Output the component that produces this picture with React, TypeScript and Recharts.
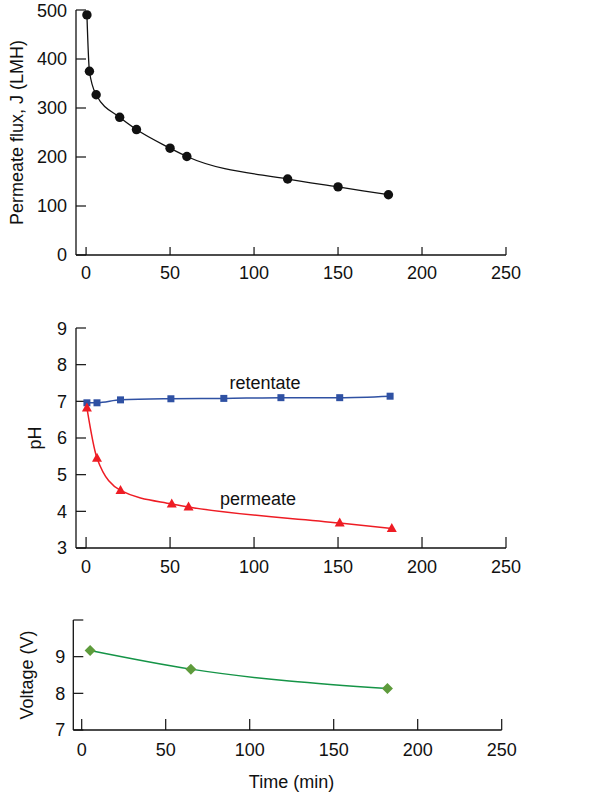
import React from "react";
import { LineChart, Line, XAxis, YAxis, ReferenceDot } from "recharts";

const fluxTime = [0.5, 2, 6, 20, 30, 50, 60, 120, 150, 180];
const fluxValues = [490, 375, 327, 281, 256, 218, 201, 155, 139, 123];

const retentateTime = [0.5, 6.5, 20.5, 50.5, 82, 116, 151, 181];
const retentatePH = [6.96, 6.96, 7.04, 7.07, 7.08, 7.1, 7.1, 7.14];

const permeateTime = [0.5, 6.5, 20.5, 51, 61, 151, 182];
const permeatePH = [6.82, 5.45, 4.57, 4.2, 4.12, 3.68, 3.53];

const voltageTime = [5, 65, 182];
const voltageValues = [9.17, 8.66, 8.13];

const timeTicks = [0, 50, 100, 150, 200, 250];
const fluxTicks = [0, 100, 200, 300, 400, 500];
const phTicks = [3, 4, 5, 6, 7, 8, 9];
const voltTicks = [7, 8, 9, 10];

const fluxData = fluxTime.map((t, i) => ({ t, v: fluxValues[i] }));
const retData = retentateTime.map((t, i) => ({ t, v: retentatePH[i] }));
const permData = permeateTime.map((t, i) => ({ t, v: permeatePH[i] }));
const voltData = voltageTime.map((t, i) => ({ t, v: voltageValues[i] }));

const FONT = "'Liberation Sans', Arial, Helvetica, sans-serif";
const tickStyle = { fontSize: 18, fill: "#111", fontFamily: FONT };
const axisLine = { stroke: "#111", strokeWidth: 1.3 };

const BLUE = "#2f51a3";
const RED = "#ee1c24";
const GREEN_LINE = "#159447";
const GREEN_PT = "#5e9b3c";

const Square = (props: any) => {
  const { cx, cy, index } = props;
  if (cx == null || cy == null) return <g key={"s" + index} />;
  return <rect key={"s" + index} x={cx - 3.5} y={cy - 3.5} width={7} height={7} fill={BLUE} />;
};
const Triangle = (props: any) => {
  const { cx, cy, index } = props;
  if (cx == null || cy == null) return <g key={"t" + index} />;
  return (
    <path
      key={"t" + index}
      d={`M${cx},${cy - 5.5} L${cx + 5},${cy + 3.5} L${cx - 5},${cy + 3.5} Z`}
      fill={RED}
    />
  );
};
const Diamond = (props: any) => {
  const { cx, cy, index } = props;
  if (cx == null || cy == null) return <g key={"d" + index} />;
  return (
    <path
      key={"d" + index}
      d={`M${cx},${cy - 5.5} L${cx + 5.5},${cy} L${cx},${cy + 5.5} L${cx - 5.5},${cy} Z`}
      fill={GREEN_PT}
    />
  );
};

const yTitle = (text: string, dxFromLeft: number) => (props: any) => {
  const vb = props.viewBox || {};
  const x = (vb.x || 0) + dxFromLeft;
  const y = (vb.y || 0) + (vb.height || 0) / 2;
  return (
    <text
      x={x}
      y={y}
      transform={`rotate(-90, ${x}, ${y})`}
      textAnchor="middle"
      dominantBaseline="central"
      fontSize={18}
      fontFamily={FONT}
      fill="#111"
    >
      {text}
    </text>
  );
};

const timeTitle = (props: any) => {
  const vb = props.viewBox || {};
  const x = (vb.x || 0) + (vb.width || 0) / 2 + 4;
  const y = (vb.y || 0) + 52;
  return (
    <text x={x} y={y} textAnchor="middle" dominantBaseline="central" fontSize={18} fontFamily={FONT} fill="#111">
      Time (min)
    </text>
  );
};

export default function App() {
  return (
    <div style={{ position: "absolute", left: 0, top: 0, width: 600, height: 796, background: "#fff" }}>
      <div style={{ position: "absolute", left: 0, top: 0 }}>
        <LineChart width={600} height={290} data={fluxData} margin={{ top: 10, right: 94, bottom: 0, left: 0 }}>
          <XAxis
            dataKey="t"
            type="number"
            domain={[-6, 250]}
            ticks={timeTicks}
            tickSize={-8}
            tickMargin={19}
            tick={tickStyle}
            axisLine={axisLine}
            tickLine={{ stroke: "#111", strokeWidth: 1.2 }}
            height={35}
            allowDataOverflow
          />
          <YAxis
            type="number"
            domain={[0, 500]}
            ticks={fluxTicks}
            tickSize={-10}
            tickMargin={19}
            tick={tickStyle}
            axisLine={axisLine}
            tickLine={{ stroke: "#111", strokeWidth: 1.2 }}
            width={76}
            label={{ content: yTitle("Permeate flux, J (LMH)", 17) }}
          />
          <Line
            dataKey="v"
            type="monotone"
            stroke="#111"
            strokeWidth={1.3}
            dot={{ r: 4.7, fill: "#111", stroke: "#111", strokeWidth: 0 }}
            isAnimationActive={false}
          />
        </LineChart>
      </div>

      <div style={{ position: "absolute", left: 0, top: 318.3 }}>
        <LineChart width={600} height={265} margin={{ top: 10, right: 94, bottom: 0, left: 0 }}>
          <XAxis
            dataKey="t"
            type="number"
            domain={[-6, 250]}
            ticks={timeTicks}
            tickSize={-11}
            tickMargin={23}
            tick={tickStyle}
            axisLine={axisLine}
            tickLine={{ stroke: "#111", strokeWidth: 1.2 }}
            height={35}
            allowDataOverflow
          />
          <YAxis
            type="number"
            domain={[3, 9]}
            ticks={phTicks}
            tickSize={-10}
            tickMargin={19}
            tick={tickStyle}
            axisLine={axisLine}
            tickLine={{ stroke: "#111", strokeWidth: 1.2 }}
            width={76}
            label={{ content: yTitle("pH", 35) }}
          />
          <Line
            data={retData}
            dataKey="v"
            type="monotone"
            stroke={BLUE}
            strokeWidth={1.5}
            dot={Square}
            isAnimationActive={false}
          />
          <Line
            data={permData}
            dataKey="v"
            type="monotone"
            stroke={RED}
            strokeWidth={1.5}
            dot={Triangle}
            isAnimationActive={false}
          />
          <ReferenceDot
            x={106.5}
            y={7.51}
            r={0}
            fill="none"
            stroke="none"
            label={{ value: "retentate", position: "center", fontSize: 18, fill: "#111", fontFamily: FONT }}
          />
          <ReferenceDot
            x={102.4}
            y={4.34}
            r={0}
            fill="none"
            stroke="none"
            label={{ value: "permeate", position: "center", fontSize: 18, fill: "#111", fontFamily: FONT }}
          />
        </LineChart>
      </div>

      <div style={{ position: "absolute", left: 0, top: 610 }}>
        <LineChart width={600} height={186} data={voltData} margin={{ top: 10, right: 98.3, bottom: 0, left: 0 }}>
          <XAxis
            dataKey="t"
            type="number"
            domain={[-5, 250]}
            ticks={timeTicks}
            tickSize={-11}
            tickMargin={24}
            tick={tickStyle}
            axisLine={axisLine}
            tickLine={{ stroke: "#111", strokeWidth: 1.2 }}
            height={66}
            allowDataOverflow
            label={{ content: timeTitle }}
          />
          <YAxis
            type="number"
            domain={[7, 10]}
            ticks={voltTicks}
            tickFormatter={(v: number) => (v === 10 ? "" : String(v))}
            tickSize={-10}
            tickMargin={18}
            tick={tickStyle}
            axisLine={axisLine}
            tickLine={{ stroke: "#111", strokeWidth: 1.2 }}
            width={73.3}
            label={{ content: yTitle("Voltage (V)", 27) }}
          />
          <Line
            dataKey="v"
            type="monotone"
            stroke={GREEN_LINE}
            strokeWidth={1.5}
            dot={Diamond}
            isAnimationActive={false}
          />
        </LineChart>
      </div>
    </div>
  );
}
